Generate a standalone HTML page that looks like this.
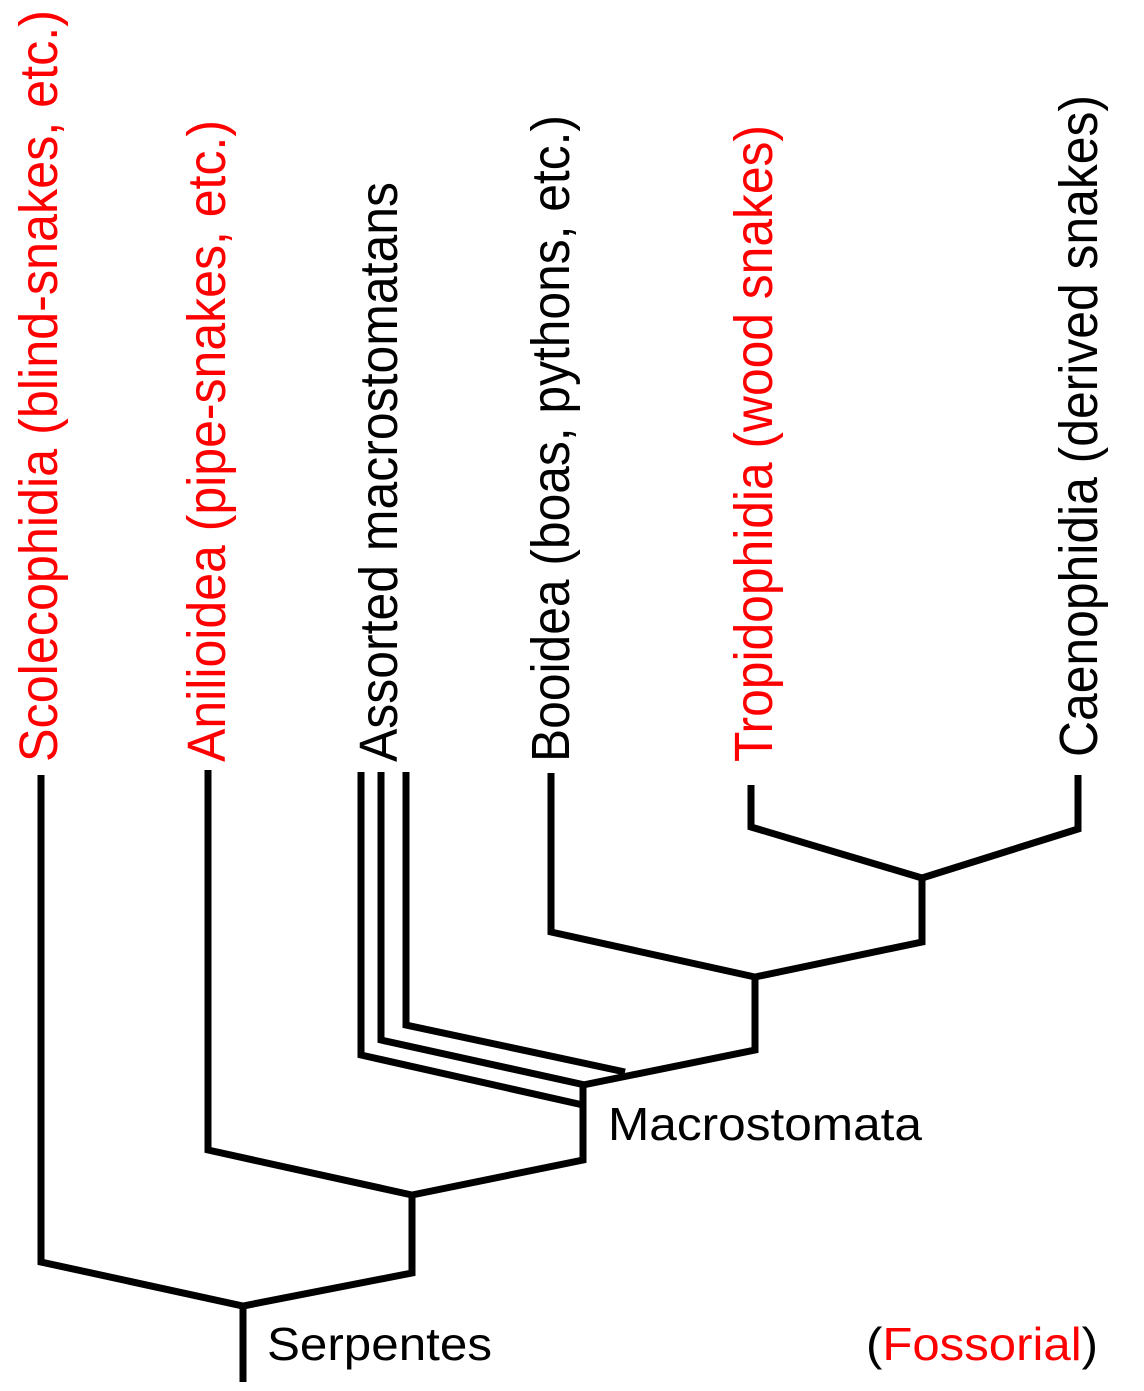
<!DOCTYPE html>
<html><head><meta charset="utf-8"><style>html,body{margin:0;padding:0;background:#fff}svg{display:block}</style></head>
<body>
<svg width="1144" height="1391" viewBox="0 0 1144 1391" xmlns="http://www.w3.org/2000/svg" font-family="Liberation Sans, Arial, sans-serif">
<g fill="none" stroke="#000" stroke-width="7" stroke-linejoin="miter">
<polyline points="41,775 41,1262 243,1306 412,1273 412,1195 208,1150 208,770"/>
<line x1="243" y1="1306" x2="243" y2="1382"/>
<polyline points="412,1195 583,1160 583,1083"/>
<polyline points="361,772 361,1055 583,1105"/>
<polyline points="381,772 381,1040 585,1085"/>
<polyline points="406,772 406,1025 625,1072"/>
<polyline points="583,1085 755,1050 755,977 551,932 551,773"/>
<polyline points="755,977 922,942 922,878 751,827 751,785"/>
<polyline points="922,878 1078,829 1078,775"/>
</g>
<g font-size="54">
<text x="57" y="762" transform="rotate(-90 57 762)" fill="#f00" textLength="752" lengthAdjust="spacingAndGlyphs">Scolecophidia (blind-snakes, etc.)</text>
<text x="225" y="762" transform="rotate(-90 225 762)" fill="#f00" textLength="642" lengthAdjust="spacingAndGlyphs">Anilioidea (pipe-snakes, etc.)</text>
<text x="397" y="762" transform="rotate(-90 397 762)" fill="#000" textLength="580" lengthAdjust="spacingAndGlyphs">Assorted macrostomatans</text>
<text x="569" y="762" transform="rotate(-90 569 762)" fill="#000" textLength="647" lengthAdjust="spacingAndGlyphs">Booidea (boas, pythons, etc.)</text>
<text x="772" y="762" transform="rotate(-90 772 762)" fill="#f00" textLength="637" lengthAdjust="spacingAndGlyphs">Tropidophidia (wood snakes)</text>
<text x="1097" y="757" transform="rotate(-90 1097 757)" fill="#000" textLength="662" lengthAdjust="spacingAndGlyphs">Caenophidia (derived snakes)</text>
</g>
<g font-size="46">
<text x="608" y="1140" textLength="314" lengthAdjust="spacingAndGlyphs">Macrostomata</text>
<text x="267" y="1360" textLength="225" lengthAdjust="spacingAndGlyphs">Serpentes</text>
<text x="866" y="1360" textLength="232" lengthAdjust="spacingAndGlyphs">(<tspan fill="#f00">Fossorial</tspan>)</text>
</g>
</svg>
</body></html>
